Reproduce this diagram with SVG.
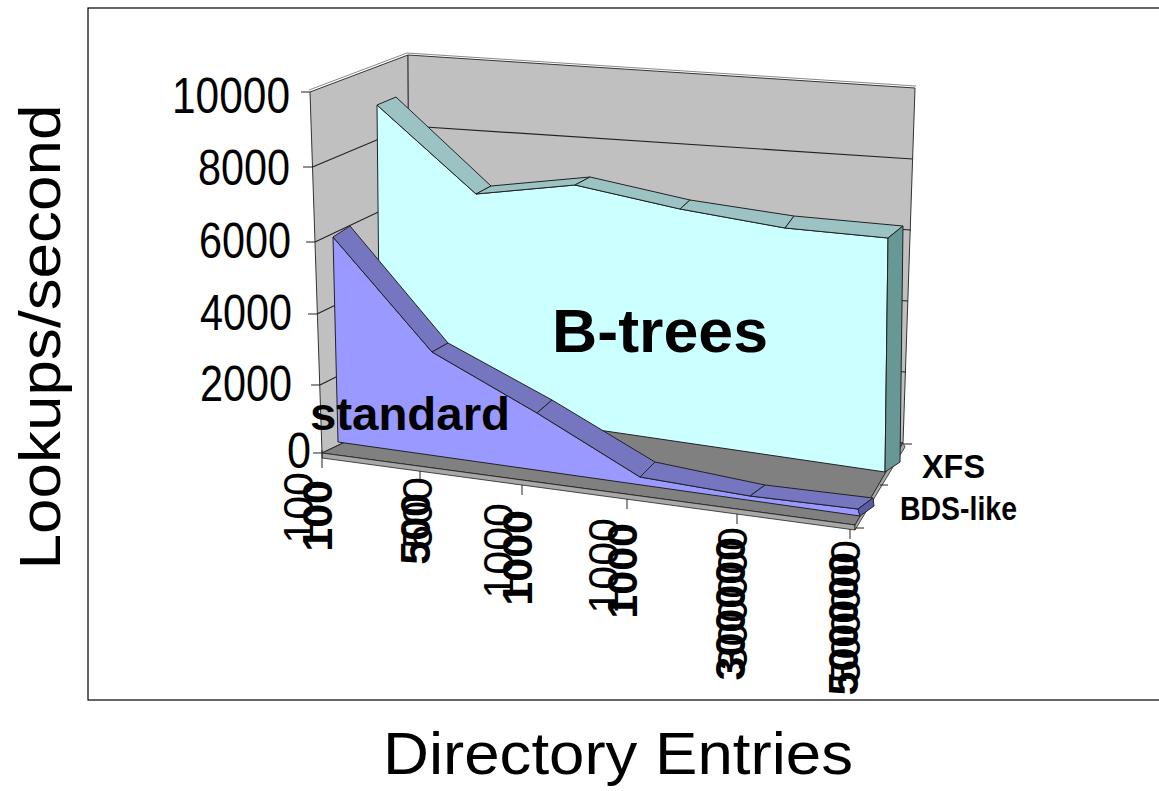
<svg xmlns="http://www.w3.org/2000/svg" width="1159" height="791" viewBox="0 0 1159 791">
<style>
.wall{fill:#C0C0C0;stroke:#333;stroke-width:1}
.grid{stroke:#222;stroke-width:1.2;fill:none}
.tick{stroke:#222;stroke-width:1;fill:none}
.floor{fill:#808080;stroke:#222;stroke-width:1}
.floorside{fill:#A8A8A8;stroke:#222;stroke-width:0.8}
.xfsface{fill:#CCFFFF;stroke:#222;stroke-width:1}
.xfsband{fill:#9CC3C3;stroke:#222;stroke-width:1}
.xfsend{fill:#689896;stroke:#222;stroke-width:1}
.stdface{fill:#9999FF;stroke:#222;stroke-width:1}
.stdband{fill:#7575C0;stroke:#222;stroke-width:1}
.stdend{fill:#5A5AA5;stroke:#222;stroke-width:1}
.t{font-family:"Liberation Sans",Arial,sans-serif;fill:#000}
.ylab{font-size:50px;text-anchor:end}
.xr{font-size:43px;text-anchor:end}
.xb{font-size:43px;font-weight:bold;text-anchor:end}
.b{font-weight:bold}
</style>
<rect x="88" y="8" width="1090" height="692" fill="#FFFFFF" stroke="#000" stroke-width="1.2"/>
<g id="walls">
<polygon class="wall" points="310,92 408,55 410,411 322,453"/>
<polygon class="wall" points="408,55 915,88 903,443 410,411"/>
<polyline points="309,90 407,53 916,86" fill="none" stroke="#888" stroke-width="1"/>
</g>
<g id="gridlines">
<polyline class="grid" points="312.5,167 410,126 912.6,159"/>
<polyline class="grid" points="315,242 410,197 911,230"/>
<polyline class="grid" points="317,314 410,269 908,301"/>
<polyline class="grid" points="320,385 410,340 906,372"/>
<line class="tick" x1="301" y1="92" x2="310" y2="92"/>
<line class="tick" x1="303" y1="167" x2="312.5" y2="167"/>
<line class="tick" x1="306" y1="242" x2="315" y2="242"/>
<line class="tick" x1="308" y1="314" x2="317" y2="314"/>
<line class="tick" x1="311" y1="385" x2="320" y2="385"/>
<line class="tick" x1="313" y1="453" x2="322" y2="453"/>
</g>
<g id="floor">
<polygon class="floor" points="322,453 410,411 903,443 855,525"/>
<polygon class="floorside" points="322,453 855,525 855,530 322,458"/>
<polygon class="floorside" points="855,525 903,443 905,447 855,530"/>
<line class="tick" x1="322" y1="450" x2="322" y2="468"/>
<line class="tick" x1="420" y1="471" x2="420" y2="481"/>
<line class="tick" x1="522" y1="485" x2="522" y2="495"/>
<line class="tick" x1="627" y1="499" x2="627" y2="509"/>
<line class="tick" x1="737" y1="514" x2="737" y2="524"/>
<line class="tick" x1="850" y1="529" x2="850" y2="539"/>
<line class="tick" x1="904" y1="444" x2="912" y2="444"/>
<line class="tick" x1="880" y1="485" x2="888" y2="485"/>
<line class="tick" x1="856" y1="528" x2="864" y2="528"/>
</g>
<g id="series-xfs">
<polygon class="xfsface" points="377,105 476,194 575,185 680,209 785,228 888,238 885,472 380,398"/>
<polygon class="xfsband" points="377,105 476,194 491,186 396,97"/>
<polygon class="xfsband" points="476,194 575,185 590,177 491,186"/>
<polygon class="xfsband" points="575,185 680,209 690,200 590,177"/>
<polygon class="xfsband" points="680,209 785,228 794,216 690,200"/>
<polygon class="xfsband" points="785,228 888,238 903,226 794,216"/>
<polygon class="xfsend" points="888,238 903,226 900,462 885,472"/>
</g>
<g id="series-standard">
<polygon class="stdface" points="333,237 432,352 537,413 640,477 750,496 858,509 860,516 338,442"/>
<polygon class="stdband" points="333,237 432,352 448,343 350,226"/>
<polygon class="stdband" points="432,352 537,413 552,400 448,343"/>
<polygon class="stdband" points="537,413 640,477 655,462 552,400"/>
<polygon class="stdband" points="640,477 750,496 765,485 655,462"/>
<polygon class="stdband" points="750,496 858,509 873,498 765,485"/>
<polygon class="stdend" points="858,509 873,498 874,506 860,516"/>
</g>
<g id="y-labels">
<text class="t ylab" x="290" y="113" textLength="118" lengthAdjust="spacingAndGlyphs">10000</text>
<text class="t ylab" x="290" y="185" textLength="92" lengthAdjust="spacingAndGlyphs">8000</text>
<text class="t ylab" x="291" y="258" textLength="92" lengthAdjust="spacingAndGlyphs">6000</text>
<text class="t ylab" x="292" y="330" textLength="92" lengthAdjust="spacingAndGlyphs">4000</text>
<text class="t ylab" x="292" y="401" textLength="92" lengthAdjust="spacingAndGlyphs">2000</text>
<text class="t ylab" x="311" y="468" textLength="24" lengthAdjust="spacingAndGlyphs">0</text>
</g>
<g id="x-labels">
<text class="t xr" transform="translate(313,472) rotate(-90)">100</text>
<text class="t xb" transform="translate(332,480) rotate(-90)">100</text>
<text class="t xr" transform="translate(432,477) rotate(-90)">500</text>
<text class="t xb" transform="translate(430,493) rotate(-90)">500</text>
<text class="t xr" transform="translate(513,503) rotate(-90)">1000</text>
<text class="t xb" transform="translate(532,510) rotate(-90)">1000</text>
<text class="t xr" transform="translate(618,518) rotate(-90)">1000</text>
<text class="t xb" transform="translate(637,523) rotate(-90)">1000</text>
<text class="t xr" transform="translate(747,527) rotate(-90)">300000</text>
<text class="t xb" transform="translate(745,537) rotate(-90)">300000</text>
<text class="t xr" transform="translate(860,540) rotate(-90)">500000</text>
<text class="t xb" transform="translate(858,552) rotate(-90)">500000</text>
</g>
<g id="labels">
<text class="t b" x="660" y="352" font-size="62" text-anchor="middle" textLength="216" lengthAdjust="spacingAndGlyphs">B-trees</text>
<text class="t b" x="310" y="430" font-size="47" textLength="200" lengthAdjust="spacingAndGlyphs">standard</text>
<text class="t b" x="922" y="478" font-size="33" textLength="63" lengthAdjust="spacingAndGlyphs">XFS</text>
<text class="t b" x="900" y="520" font-size="33" textLength="117" lengthAdjust="spacingAndGlyphs">BDS-like</text>
<text class="t" transform="translate(60,337) rotate(-90)" font-size="58" text-anchor="middle" textLength="465" lengthAdjust="spacingAndGlyphs">Lookups/second</text>
<text class="t" x="618" y="774" font-size="60" text-anchor="middle" textLength="470" lengthAdjust="spacingAndGlyphs">Directory Entries</text>
</g>
</svg>
